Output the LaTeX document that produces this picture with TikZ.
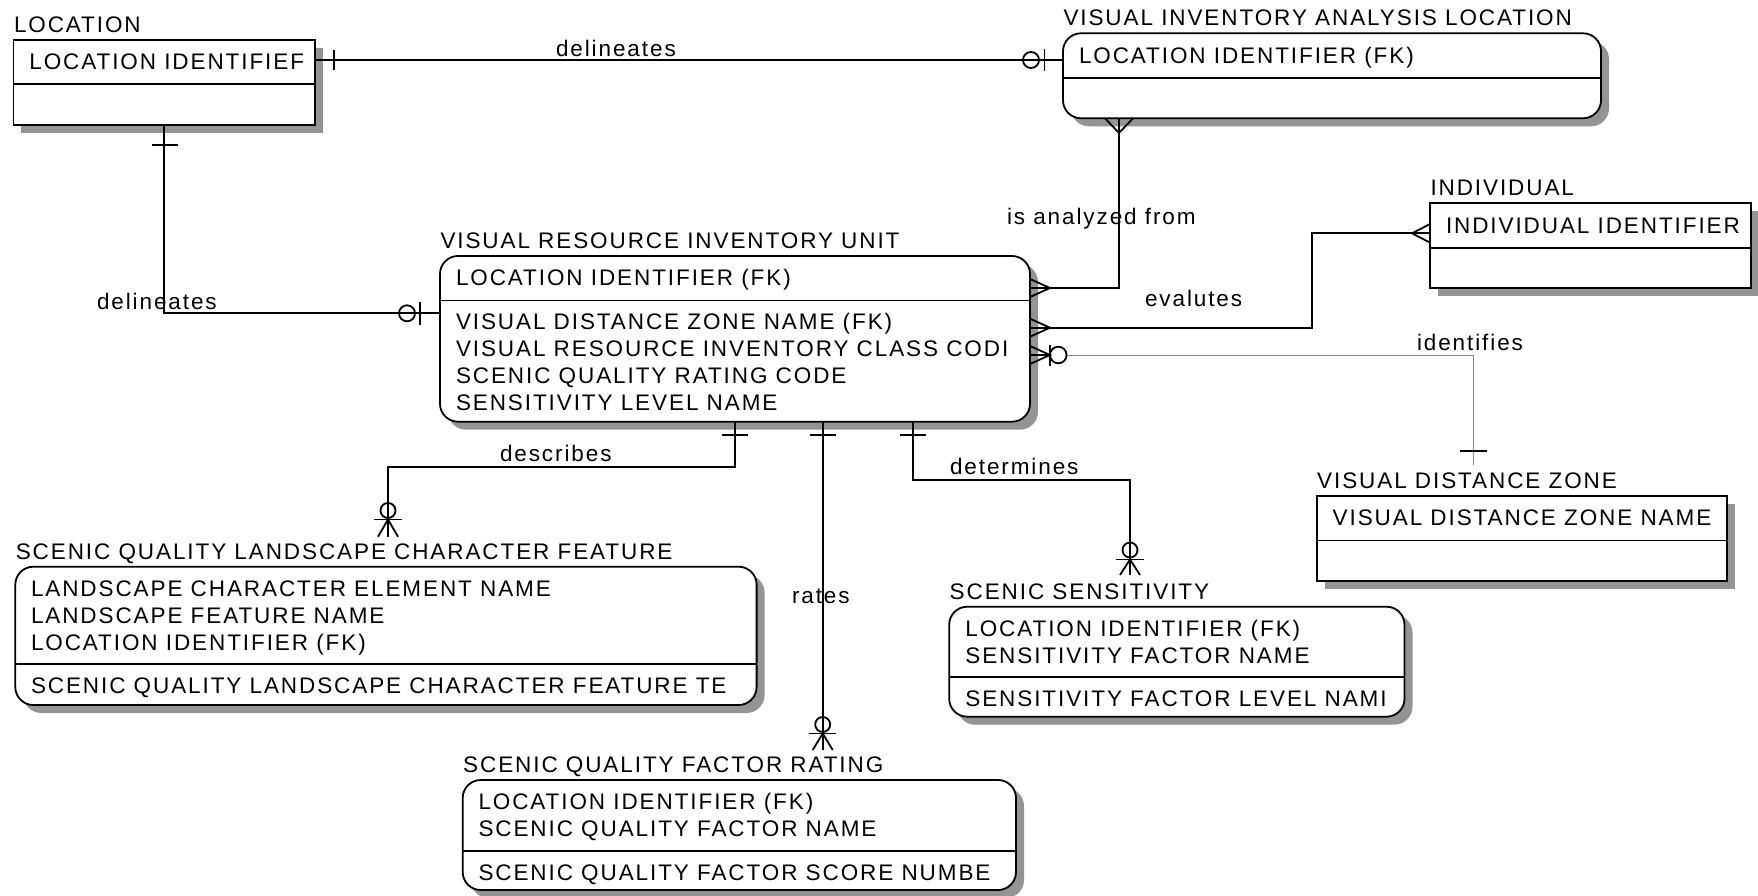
\documentclass[tikz,border=0pt]{standalone}
\usepackage{fontspec}
\newfontfamily\erfont[LetterSpace=8.5]{Liberation Sans}
\usetikzlibrary{shadows}
\definecolor{shadowgray}{RGB}{148,148,148}
\definecolor{idgray}{RGB}{135,135,135}
\tikzset{
  ent/.style={draw=black, line width=1.8pt, fill=white, inner sep=0pt, outer sep=0pt, anchor=north west,
    drop shadow={shadow xshift=8pt, shadow yshift=-8pt, fill=shadowgray, draw=none, opacity=1}},
  rent/.style={ent, rounded corners=18pt},
  txt/.style={anchor=base west, inner sep=0pt, outer sep=0pt, font=\erfont\fontsize{22.5}{26}\selectfont},
  rel/.style={line width=1.8pt, draw=black},
  idrel/.style={line width=1pt, draw=idgray},
  mk/.style={line width=1.8pt, draw=black},
}
\begin{document}
\begin{tikzpicture}[x=1pt,y=-1pt]
\useasboundingbox[fill=white] (0,0) rectangle (1758,896);

% ---------- entities ----------
\node[ent, minimum width=301.3pt, minimum height=85pt] (loc) at (13.4,40) {};
\draw[rel] (13.4,84.3) -- (314.7,84.3);
\node[txt] (tloc) at (14,32.4) {LOCATION};
\node[txt] (aloc1) at (29.4,69.9) {LOCATION IDENTIFIEF};

\node[rent, minimum width=538pt, minimum height=85pt] (vial) at (1063,33.3) {};
\draw[rel] (1063,77.8) -- (1601,77.8);
\node[txt] (tvial) at (1063.5,25.7) {VISUAL INVENTORY ANALYSIS LOCATION};
\node[txt] (avial1) at (1079,63.2) {LOCATION IDENTIFIER (FK)};

\node[rent, minimum width=590pt, minimum height=165.7pt] (vriu) at (440,256) {};
\draw[rel] (440,300.5) -- (1030,300.5);
\node[txt] (tvriu) at (440.5,248.4) {VISUAL RESOURCE INVENTORY UNIT};
\node[txt] (avriu1) at (456,285.9) {LOCATION IDENTIFIER (FK)};
\node[txt] (avriu2) at (456,329.9) {VISUAL DISTANCE ZONE NAME (FK)};
\node[txt] (avriu3) at (456,356.6) {VISUAL RESOURCE INVENTORY CLASS CODI};
\node[txt] (avriu4) at (456,383.3) {SCENIC QUALITY RATING CODE};
\node[txt] (avriu5) at (456,410) {SENSITIVITY LEVEL NAME};

\node[ent, minimum width=321pt, minimum height=85pt] (ind) at (1430,203.3) {};
\draw[rel] (1430,248) -- (1751,248);
\node[txt] (tind) at (1430.5,195.7) {INDIVIDUAL};
\node[txt] (aind1) at (1446,233.2) {INDIVIDUAL IDENTIFIER};

\node[ent, minimum width=410.6pt, minimum height=84.7pt] (vdz) at (1316.7,496) {};
\draw[rel] (1316.7,540.5) -- (1727.3,540.5);
\node[txt] (tvdz) at (1317.2,488.4) {VISUAL DISTANCE ZONE};
\node[txt] (avdz1) at (1332.7,525.9) {VISUAL DISTANCE ZONE NAME};

\node[rent, minimum width=741.3pt, minimum height=138.3pt] (sqlcf) at (15.3,566.7) {};
\draw[rel] (15.3,664.3) -- (756.6,664.3);
\node[txt] (tsqlcf) at (15.8,559.1) {SCENIC QUALITY LANDSCAPE CHARACTER FEATURE};
\node[txt] (asqlcf1) at (31,596.6) {LANDSCAPE CHARACTER ELEMENT NAME};
\node[txt] (asqlcf2) at (31,623.3) {LANDSCAPE FEATURE NAME};
\node[txt] (asqlcf3) at (31,650) {LOCATION IDENTIFIER (FK)};
\node[txt] (asqlcf4) at (31,693.7) {SCENIC QUALITY LANDSCAPE CHARACTER FEATURE TE};

\node[rent, minimum width=553.3pt, minimum height=110pt] (sqfr) at (462.7,780) {};
\draw[rel] (462.7,851) -- (1016,851);
\node[txt] (tsqfr) at (463.2,772.4) {SCENIC QUALITY FACTOR RATING};
\node[txt] (asqfr1) at (478.5,809.9) {LOCATION IDENTIFIER (FK)};
\node[txt] (asqfr2) at (478.5,836.6) {SCENIC QUALITY FACTOR NAME};
\node[txt] (asqfr3) at (478.5,880.4) {SCENIC QUALITY FACTOR SCORE NUMBE};

\node[rent, minimum width=455.3pt, minimum height=110pt] (ss) at (949.2,606.7) {};
\draw[rel] (949.2,677.3) -- (1404.5,677.3);
\node[txt] (tss) at (949.7,599.1) {SCENIC SENSITIVITY};
\node[txt] (ass1) at (965.4,636.6) {LOCATION IDENTIFIER (FK)};
\node[txt] (ass2) at (965.4,663.3) {SENSITIVITY FACTOR NAME};
\node[txt] (ass3) at (965.4,706.7) {SENSITIVITY FACTOR LEVEL NAMI};

% ---------- connector end points ----------
\coordinate (c1a) at (314.7,60);
\coordinate (c1b) at (1063,60);
\coordinate (c2b) at (440,313.3);
\coordinate (c3a) at (1119,118.3);
\coordinate (c3b) at (1030,288);
\coordinate (c4a) at (1030,327.7);
\coordinate (c4b) at (1430,233.3);
\coordinate (c5a) at (1030,355);
\coordinate (c5b) at (1473.6,465);
\coordinate (c6b) at (388,536.7);
\coordinate (c7a) at (822.7,421.7);
\coordinate (c7b) at (822.7,750);
\coordinate (c8a) at (913,421.7);
\coordinate (c8b) at (1130,575);

% 1 delineates: LOCATION -> VISUAL INVENTORY ANALYSIS LOCATION
\draw[rel] (c1a) -- (c1b);
\draw[mk] (334,50) -- (334,70);
\draw[mk] (1031,60) circle[radius=8];
\draw[mk] (1044.5,49) -- (1044.5,71);
\node[txt] (l1) at (556,57) {delineates};

% 2 delineates: LOCATION -> VISUAL RESOURCE INVENTORY UNIT
\draw[rel] (loc.south) |- (c2b);
\draw[mk] (151.5,145) -- (177.5,145);
\draw[mk] (407,313.3) circle[radius=8];
\draw[mk] (420,302) -- (420,325);
\node[txt] (l2) at (97,309) {delineates};

% 3 is analyzed from
\draw[rel] (c3a) |- (c3b);
\draw[mk] (1105,118.3) -- (1119,133) -- (1133,118.3);
\draw[mk] (1030,279) -- (1050,288) -- (1030,297);
\node[txt] (l3) at (1007,224) {is analyzed from};

% 4 evalutes
\draw[rel] (c4a) -- ++(282,0) |- (c4b);
\draw[mk] (1030,318.7) -- (1050,327.7) -- (1030,336.7);
\draw[mk] (1430,224) -- (1412,233.3) -- (1430,242.6);
\node[txt] (l4) at (1145,306) {evalutes};

% 5 identifies
\draw[idrel] (c5a) ++(36.6,0) -| (c5b);
\draw[mk] (1030,346) -- (1050,355) -- (1030,364);
\draw[mk] (c5a) -- ++(20,0);
\draw[mk] (1050,345) -- (1050,366);
\draw[mk] (1058.3,355) circle[radius=8.3];
\draw[mk] (1460,450.7) -- (1487,450.7);
\node[txt] (l5) at (1417,350) {identifies};

% 6 describes
\draw[rel] (vriu.south) -- ++(0,45) -| (c6b);
\draw[mk] (722,435) -- (748,435);
\draw[mk] (388,510.5) circle[radius=7.5];
\draw[mk] (374,519.5) -- (402,519.5);
\draw[mk] (378,536.7) -- (388,519.5) -- (398,536.7);
\node[txt] (l6) at (500,461) {describes};

% 7 rates
\draw[rel] (c7a) -- (c7b);
\draw[mk] (809.7,435) -- (835.7,435);
\draw[mk] (822.7,724.5) circle[radius=7.5];
\draw[mk] (809.2,733.5) -- (836.2,733.5);
\draw[mk] (812.7,750) -- (822.7,733.5) -- (832.7,750);
\node[txt] (l7) at (792,603) {rates};

% 8 determines
\draw[rel] (c8a) -- ++(0,58.3) -| (c8b);
\draw[mk] (900,435) -- (926,435);
\draw[mk] (1130,550) circle[radius=7.5];
\draw[mk] (1116,559.5) -- (1144,559.5);
\draw[mk] (1120,575) -- (1130,559.5) -- (1140,575);
\node[txt] (l8) at (950,474) {determines};
\end{tikzpicture}
\end{document}
